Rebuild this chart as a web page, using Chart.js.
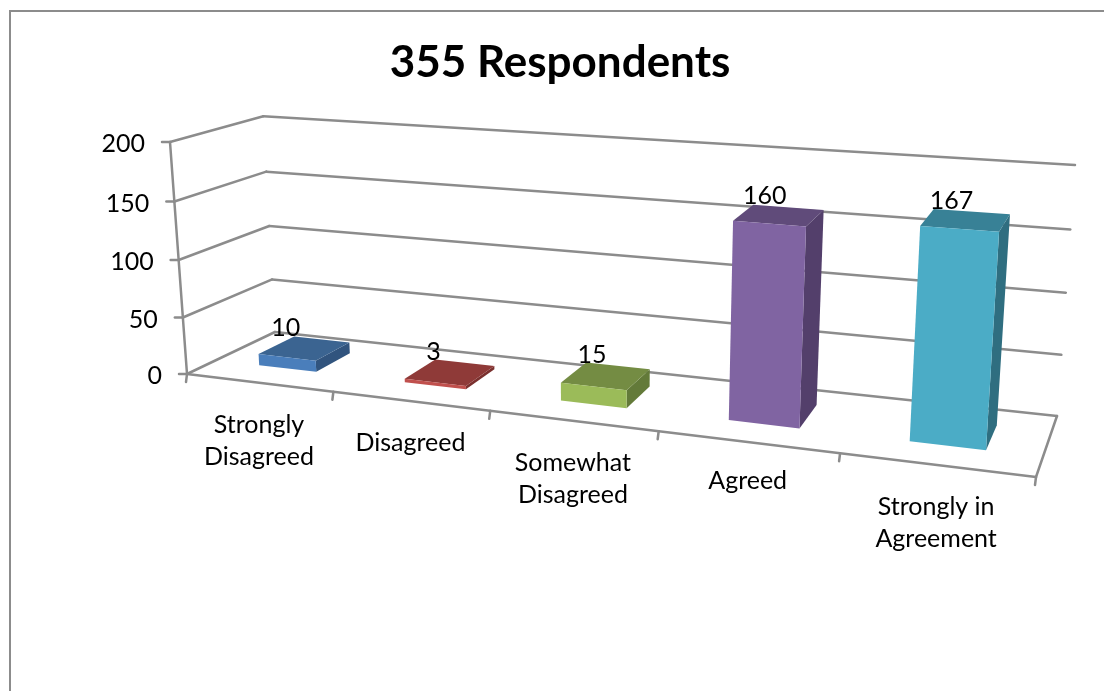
<!DOCTYPE html>
<html>
<head>
<meta charset="utf-8">
<title>355 Respondents</title>
<script src="https://cdn.jsdelivr.net/npm/chart.js@4/dist/chart.umd.min.js"></script>
<style>
  html, body { margin: 0; padding: 0; background: #fff; overflow: hidden; }
  #wrap { position: absolute; left: 0; top: 0; width: 1104px; height: 691px; }
</style>
</head>
<body>
<div id="wrap"><canvas id="myChart"></canvas></div>
<script>
const categories = [['Strongly', 'Disagreed'], ['Disagreed'], ['Somewhat', 'Disagreed'], ['Agreed'], ['Strongly in', 'Agreement']];
const responses = [10, 3, 15, 160, 167];
const frontColors = ['#4a7ebb', '#c0504d', '#9bbb59', '#8064a2', '#4bacc6'];
const topColors = ['#3b6491', '#8f3a38', '#748c43', '#604b7a', '#388196'];
const sideColors = ['#31547e', '#7a302e', '#637a39', '#533f6b', '#2f6e80'];

const FONT = 'Lato, Carlito, sans-serif';
const LINE = '#8c8c8c';
const labelNudge = [0, 0, 0, -3, 0];

// corners of the 3d box on the page: [u][v][w], u = along categories, v = up, w = depth
const box = {
  f0l: [187, 374], f0r: [1036, 477], b0l: [275, 332], b0r: [1057, 416],
  f1l: [170, 142], f1r: [1054, 204], b1l: [263.3, 116.3], b1r: [1075, 165]
};
const persp = 1.2; // right side is nearer so categories get wider
const perspUp = 1.035; // same thing, much weaker, going up
const barFront = 0.33, barBack = 0.75, labelDepth = 0.7, barShift = 0.002;

function lerp(a, b, t) { return a + (b - a) * t; }
function project(u, v, w) {
  const s = u / (u + persp * (1 - u));
  const h = v / (v + perspUp * (1 - v));
  const out = [];
  for (let k = 0; k < 2; k++) {
    const f0 = lerp(box.f0l[k], box.f0r[k], s);
    const f1 = lerp(box.f1l[k], box.f1r[k], s);
    const b0 = lerp(box.b0l[k], box.b0r[k], s);
    const b1 = lerp(box.b1l[k], box.b1r[k], s);
    out.push(lerp(lerp(f0, f1, h), lerp(b0, b1, h), w));
  }
  return out;
}
function poly(ctx, pts, fill) {
  ctx.beginPath();
  pts.forEach((p, i) => i ? ctx.lineTo(p[0], p[1]) : ctx.moveTo(p[0], p[1]));
  ctx.closePath();
  ctx.fillStyle = fill;
  ctx.fill();
}
function seg(ctx, a, b) {
  ctx.beginPath();
  ctx.moveTo(a[0], a[1]);
  ctx.lineTo(b[0], b[1]);
  ctx.stroke();
}

const perspectivePlugin = {
  id: 'perspective',
  beforeDraw(chart) {
    // outer frame, only left and top show in the picture
    const ctx = chart.ctx;
    ctx.save();
    ctx.fillStyle = '#fff';
    ctx.fillRect(0, 0, chart.width, chart.height);
    ctx.fillStyle = LINE;
    ctx.fillRect(9, 10, 2, chart.height - 10);
    ctx.fillRect(9, 10, chart.width - 9, 2);
    ctx.restore();
  },
  beforeDatasetsDraw(chart) {
    const ctx = chart.ctx, area = chart.chartArea;
    const xs = chart.scales.x, ys = chart.scales.y;
    const toU = px => (px - area.left) / area.width;
    const toV = py => (area.bottom - py) / area.height;
    ctx.save();
    ctx.lineCap = 'round';
    ctx.lineJoin = 'round';
    ctx.strokeStyle = LINE;
    ctx.lineWidth = 2.5;

    // walls
    ys.ticks.forEach(t => {
      const v = toV(ys.getPixelForValue(t.value));
      const a = project(0, v, 0), b = project(0, v, 1), c = project(1, v, 1);
      seg(ctx, [a[0] - 8, a[1]], a);
      seg(ctx, a, b);
      seg(ctx, b, c);
      ctx.fillStyle = '#000';
      ctx.font = '25px ' + FONT;
      ctx.textAlign = 'right';
      ctx.textBaseline = 'middle';
      ctx.fillText(String(t.value), a[0] - 25, a[1] + 2);
    });
    seg(ctx, project(0, 0, 0), project(0, 1, 0));
    // floor
    seg(ctx, project(0, 0, 0), project(1, 0, 0));
    seg(ctx, project(1, 0, 0), project(1, 0, 1));

    // category ticks
    const n = categories.length;
    for (let i = 0; i <= n; i++) {
      const p = project(i / n, 0, 0);
      seg(ctx, p, [p[0] - 1, p[1] + 8]);
    }

    // bars
    const bars = chart.getDatasetMeta(0).data;
    bars.forEach((el, i) => {
      const u0 = toU(el.x - el.width / 2) + barShift, u1 = toU(el.x + el.width / 2) + barShift, v = toV(el.y);
      const fbl = project(u0, 0, barFront), fbr = project(u1, 0, barFront);
      const ftl = project(u0, v, barFront), ftr = project(u1, v, barFront);
      const bbr = project(u1, 0, barBack), btl = project(u0, v, barBack), btr = project(u1, v, barBack);
      poly(ctx, [fbr, ftr, btr, bbr], sideColors[i]);
      poly(ctx, [ftl, ftr, btr, btl], topColors[i]);
      poly(ctx, [fbl, fbr, ftr, ftl], frontColors[i]);
    });

    // value labels and category labels
    ctx.fillStyle = '#000';
    ctx.font = '25px ' + FONT;
    ctx.textAlign = 'center';
    ctx.textBaseline = 'middle';
    bars.forEach((el, i) => {
      const u = toU(el.x), v = toV(el.y);
      const x = project(u, v / 2, barFront)[0];
      const y = project(u, v, labelDepth)[1] - 13;
      ctx.fillText(String(responses[i]), x, y);
    });
    categories.forEach((lines, i) => {
      const p = project(toU(xs.getPixelForValue(i)), 0, 0);
      lines.forEach((txt, j) => ctx.fillText(txt, p[0], p[1] + 42 + labelNudge[i] + j * 32));
    });
    ctx.restore();
    return false; // bars already drawn in perspective
  }
};

new Chart(document.getElementById('myChart'), {
  type: 'bar',
  data: {
    labels: categories,
    datasets: [{
      label: '355 Respondents',
      data: responses,
      backgroundColor: frontColors,
      barPercentage: 0.4,
      categoryPercentage: 1
    }]
  },
  options: {
    responsive: true,
    maintainAspectRatio: false,
    animation: false,
    layout: { padding: { left: 16, top: 36, bottom: 150 } },
    scales: {
      x: { display: false },
      y: { display: false, min: 0, max: 200, ticks: { stepSize: 50 } }
    },
    plugins: {
      legend: { display: false },
      title: {
        display: true,
        text: '355 Respondents',
        color: '#000',
        font: { family: FONT, size: 44, weight: 'bold' },
        padding: { top: 0, bottom: 10 }
      }
    }
  },
  plugins: [perspectivePlugin]
});
</script>
</body>
</html>
